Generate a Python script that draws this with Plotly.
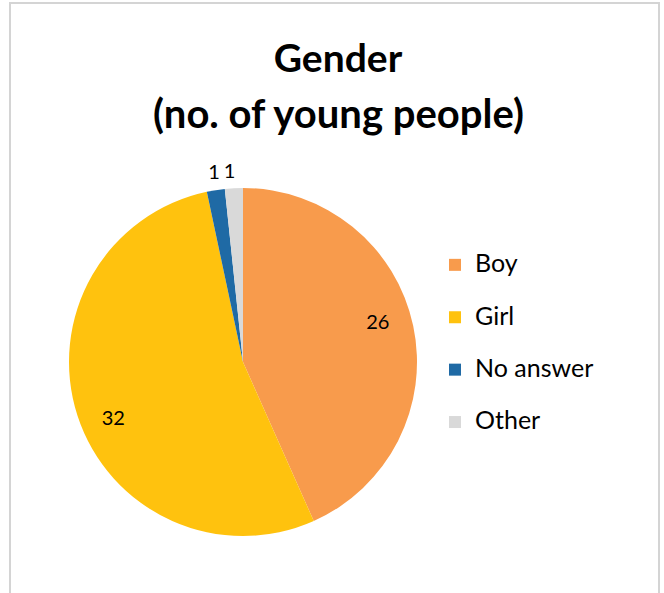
import plotly.graph_objects as go

# Survey responses: gender of young people
categories = ["Boy", "Girl", "No answer", "Other"]
counts = [26, 32, 1, 1]
colors = ["#F89B4C", "#FFC20E", "#1F6AA5", "#D9D9D9"]

W, H = 664, 593
FONT = "Lato"
CX, CY, R = 243, 362, 174
CLEAR = ["rgba(0,0,0,0)"] * len(categories)
label_font = dict(family=FONT, size=20, color="black")


def domain(radius):
    return dict(x=[(CX - radius) / W, (CX + radius) / W],
                y=[(H - CY - radius) / H, (H - CY + radius) / H])


# Legend entries: larger text inside a two-line label to space the entries out
legend_labels = [f"<span style='font-size:25px'>{c}</span><br>\u00a0" for c in categories]

common = dict(
    labels=legend_labels,
    values=counts,
    sort=False,
    direction="clockwise",
    hoverinfo="skip",
)

fig = go.Figure()

# Visible pie
fig.add_trace(go.Pie(
    **common,
    rotation=0,
    domain=domain(R),
    marker=dict(colors=colors, line=dict(width=0)),
    textinfo="none",
))

# Value labels for the large slices, set in the outer ring
fig.add_trace(go.Pie(
    **common,
    rotation=-5,
    domain=domain(R),
    hole=0.62,
    marker=dict(colors=CLEAR, line=dict(width=0)),
    texttemplate=["%{value}", "%{value}", "", ""],
    textposition="inside",
    insidetextorientation="horizontal",
    textfont=label_font,
    showlegend=False,
))

# Value labels for the two thin slices, just outside the rim
for i, rot in ((2, 3.5), (3, 2.5)):
    tmpl = [""] * len(categories)
    tmpl[i] = "%{value}"
    fig.add_trace(go.Pie(
        **common,
        rotation=rot,
        domain=domain(R + 6),
        marker=dict(colors=CLEAR, line=dict(width=0)),
        texttemplate=tmpl,
        textposition="outside",
        outsidetextfont=label_font,
        showlegend=False,
    ))

fig.update_layout(
    width=W,
    height=H,
    margin=dict(l=0, r=0, t=0, b=0),
    paper_bgcolor="white",
    plot_bgcolor="white",
    font=dict(family=FONT, color="black"),
    title=dict(
        text="<b>Gender</b>",
        font=dict(family=FONT, size=39, color="black"),
        x=338 / W,
        xanchor="center",
        y=1 - 58 / H,
        yanchor="middle",
    ),
    annotations=[
        dict(
            text="<b>(no. of young people)</b>",
            font=dict(family=FONT, size=40, color="black"),
            xref="paper", yref="paper",
            x=338 / W, y=1 - 113 / H,
            xanchor="center", yanchor="middle",
            showarrow=False,
        )
    ],
    legend=dict(
        font=dict(family=FONT, size=19, color="black"),
        x=435 / W,
        xanchor="left",
        y=1 - 246 / H,
        yanchor="top",
        valign="top",
        bgcolor="rgba(0,0,0,0)",
    ),
    shapes=[
        dict(
            type="rect", xref="paper", yref="paper",
            x0=10 / W, x1=659 / W, y0=-0.05, y1=1 - 3 / H,
            line=dict(color="#D4D4D4", width=2),
            fillcolor="rgba(0,0,0,0)",
            layer="below",
        )
    ],
)

fig.write_html("out.html")
